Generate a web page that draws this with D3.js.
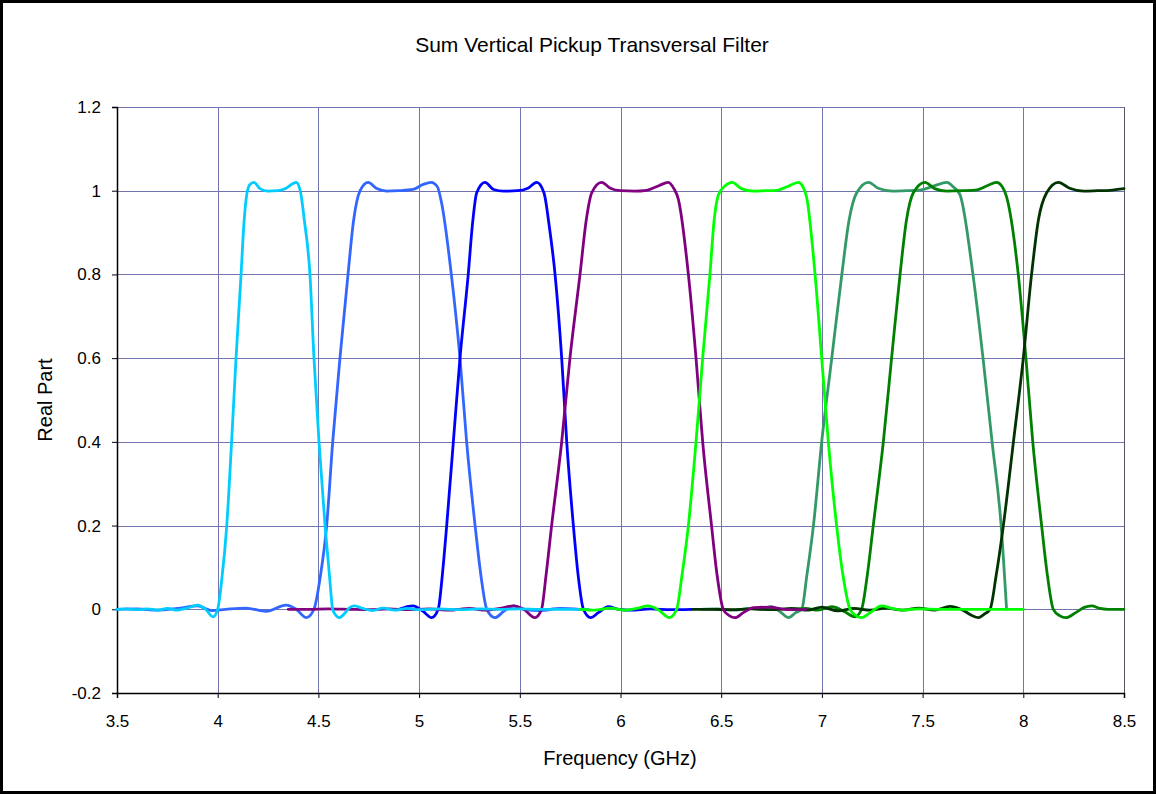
<!DOCTYPE html>
<html>
<head>
<meta charset="utf-8">
<script src="https://cdn.jsdelivr.net/npm/d3@7"></script>
<style>
  html, body { margin: 0; padding: 0; background: #fff; }
  svg { display: block; font-family: "Liberation Sans", Arial, sans-serif; }
</style>
</head>
<body>
<svg id="chart" width="1156" height="794"></svg>
<script>
// Axis ticks
const xTicks = [3.5, 4, 4.5, 5, 5.5, 6, 6.5, 7, 7.5, 8, 8.5];
const yTicks = [-0.2, 0, 0.2, 0.4, 0.6, 0.8, 1, 1.2];

// Real part of each transversal-filter channel: [frequency GHz, value]
const channel1 = [[3.50,0.000],[3.55,0.001],[3.60,-0.001],[3.65,0.001],[3.70,-0.002],[3.75,0.002],[3.80,-0.002],[3.85,0.003],[3.90,0.010],[3.94,0.000],[3.977,-0.018],[4.000,0.000],[4.020,0.070],[4.045,0.200],[4.069,0.400],[4.091,0.600],[4.116,0.800],[4.130,0.920],[4.144,0.990],[4.160,1.015],[4.180,1.020],[4.210,1.005],[4.250,0.999],[4.300,1.000],[4.340,1.006],[4.370,1.016],[4.390,1.020],[4.410,1.000],[4.430,0.930],[4.458,0.800],[4.478,0.600],[4.503,0.400],[4.533,0.200],[4.555,0.080],[4.571,0.000],[4.588,-0.015],[4.604,-0.020],[4.630,-0.010],[4.655,0.004],[4.680,0.008],[4.720,0.002],[4.770,-0.003],[4.820,0.003],[4.880,-0.002],[4.940,0.002],[5.000,-0.001],[5.100,0.001],[5.200,-0.001],[5.300,0.001],[5.400,0.000],[5.500,0.001],[5.600,0.000],[5.700,0.000],[5.840,0.000]];
const channel2 = [[3.50,0.000],[3.60,0.001],[3.70,-0.002],[3.80,0.002],[3.90,0.008],[3.97,-0.003],[4.04,0.000],[4.14,0.003],[4.24,-0.005],[4.34,0.010],[4.39,0.000],[4.44,-0.020],[4.478,0.000],[4.510,0.080],[4.541,0.200],[4.571,0.400],[4.607,0.600],[4.647,0.800],[4.675,0.930],[4.707,1.000],[4.747,1.020],[4.790,1.005],[4.840,0.999],[4.900,1.000],[4.970,1.003],[5.020,1.015],[5.060,1.020],[5.090,1.010],[5.112,0.970],[5.160,0.800],[5.203,0.600],[5.236,0.400],[5.278,0.200],[5.310,0.070],[5.336,0.000],[5.377,-0.020],[5.420,-0.005],[5.470,0.008],[5.520,0.000],[5.600,-0.003],[5.700,0.002],[5.800,0.000]];
const channel3 = [[4.90,0.000],[4.97,0.008],[5.020,-0.005],[5.062,-0.020],[5.095,0.000],[5.115,0.080],[5.137,0.200],[5.170,0.400],[5.203,0.600],[5.244,0.800],[5.265,0.920],[5.286,0.995],[5.327,1.020],[5.370,1.003],[5.420,0.999],[5.490,1.000],[5.540,1.006],[5.584,1.020],[5.620,0.995],[5.645,0.920],[5.675,0.800],[5.708,0.600],[5.733,0.400],[5.766,0.200],[5.790,0.080],[5.816,0.000],[5.852,-0.020],[5.890,-0.008],[5.940,0.006],[5.990,0.000],[6.050,-0.002],[6.150,0.001],[6.250,-0.001],[6.350,0.000]];
const channel4 = [[4.35,0.000],[4.45,0.000],[4.55,0.001],[4.65,0.000],[4.75,-0.001],[4.85,0.001],[4.95,-0.001],[5.05,0.001],[5.15,-0.002],[5.25,0.002],[5.33,-0.002],[5.40,0.002],[5.468,0.008],[5.520,0.000],[5.575,-0.020],[5.608,0.000],[5.630,0.080],[5.658,0.200],[5.708,0.400],[5.749,0.600],[5.799,0.800],[5.830,0.930],[5.857,0.995],[5.906,1.020],[5.950,1.006],[6.000,1.000],[6.070,0.999],[6.130,1.001],[6.190,1.012],[6.237,1.020],[6.265,1.005],[6.287,0.980],[6.337,0.800],[6.375,0.600],[6.408,0.400],[6.452,0.200],[6.480,0.080],[6.510,0.000],[6.540,-0.015],[6.568,-0.020],[6.610,-0.008],[6.660,0.004],[6.740,0.005],[6.830,-0.001],[6.920,0.000]];
const channel5 = [[5.80,0.000],[5.87,-0.002],[5.95,0.003],[6.02,-0.002],[6.08,0.002],[6.138,0.008],[6.190,-0.002],[6.242,-0.020],[6.279,0.000],[6.305,0.080],[6.337,0.200],[6.375,0.400],[6.408,0.600],[6.444,0.800],[6.465,0.930],[6.486,0.990],[6.520,1.012],[6.555,1.020],[6.600,1.005],[6.660,0.999],[6.720,1.000],[6.775,1.001],[6.830,1.010],[6.883,1.020],[6.905,1.010],[6.924,0.985],[6.966,0.800],[6.999,0.600],[7.032,0.400],[7.073,0.200],[7.105,0.080],[7.140,0.000],[7.170,-0.015],[7.197,-0.020],[7.240,-0.008],[7.296,0.008],[7.350,0.002],[7.400,-0.002],[7.480,0.001],[7.600,0.000],[7.700,0.000],[7.800,0.000],[8.000,0.000]];
const channel6 = [[6.40,0.000],[6.48,0.001],[6.56,-0.002],[6.64,0.002],[6.70,0.000],[6.75,0.006],[6.790,-0.005],[6.835,-0.020],[6.870,-0.008],[6.900,0.000],[6.925,0.080],[6.958,0.200],[6.999,0.400],[7.049,0.600],[7.099,0.800],[7.135,0.930],[7.173,0.995],[7.231,1.020],[7.280,1.006],[7.350,0.999],[7.420,1.000],[7.490,1.002],[7.560,1.012],[7.620,1.020],[7.655,1.008],[7.686,0.990],[7.750,0.800],[7.800,0.600],[7.845,0.400],[7.890,0.200],[7.917,0.000]];
const channel7 = [[6.85,0.000],[6.92,0.002],[6.98,-0.002],[7.050,0.006],[7.110,-0.005],[7.164,-0.018],[7.197,0.000],[7.225,0.080],[7.255,0.200],[7.305,0.400],[7.346,0.600],[7.388,0.800],[7.420,0.930],[7.454,0.995],[7.512,1.020],[7.560,1.005],[7.620,0.999],[7.700,1.000],[7.770,1.002],[7.820,1.012],[7.868,1.020],[7.895,1.010],[7.917,0.985],[7.975,0.800],[8.013,0.600],[8.047,0.400],[8.091,0.200],[8.120,0.080],[8.149,0.000],[8.180,-0.015],[8.212,-0.020],[8.260,-0.008],[8.300,0.004],[8.340,0.008],[8.380,0.002],[8.420,0.000],[8.500,0.000]];
const channel8 = [[6.35,0.000],[6.45,0.000],[6.55,-0.001],[6.65,0.001],[6.75,-0.001],[6.85,0.002],[6.93,-0.002],[7.000,0.005],[7.080,-0.004],[7.160,0.002],[7.240,-0.002],[7.320,0.003],[7.400,-0.002],[7.480,0.003],[7.560,-0.002],[7.636,0.007],[7.700,-0.002],[7.745,-0.015],[7.777,-0.020],[7.805,-0.012],[7.835,0.000],[7.865,0.080],[7.901,0.200],[7.951,0.400],[8.000,0.600],[8.041,0.800],[8.075,0.930],[8.116,0.995],[8.174,1.020],[8.230,1.006],[8.300,0.999],[8.370,1.000],[8.430,1.001],[8.500,1.005]];

// Drawing order (later series are painted on top)
const series = [
  { data: channel6, color: "#339966" },
  { data: channel7, color: "#008000" },
  { data: channel8, color: "#003300" },
  { data: channel2, color: "#3366ff" },
  { data: channel3, color: "#0000ff" },
  { data: channel4, color: "#800080" },
  { data: channel1, color: "#00ccff" },
  { data: channel5, color: "#00ff00" }
];

const W = 1156, H = 794;
const plot = { left: 117, right: 1124, top: 107, bottom: 693 };
const gridColor = "#7373b0";
const fontFamily = '"Liberation Sans", Arial, sans-serif';

const svg = d3.select("#chart");

// outer frame
svg.append("rect")
  .attr("x", 1.5).attr("y", 1.5)
  .attr("width", W - 3).attr("height", H - 3)
  .attr("fill", "#fff").attr("stroke", "#000").attr("stroke-width", 3);

const x = d3.scaleLinear().domain([3.5, 8.5]).range([plot.left, plot.right]);
const y = d3.scaleLinear().domain([-0.2, 1.2]).range([plot.bottom, plot.top]);

// grid
const grid = svg.append("g").attr("shape-rendering", "crispEdges");
grid.selectAll("line.v").data(xTicks).join("line")
  .attr("class", "v")
  .attr("x1", d => Math.round(x(d)) + 0.5).attr("x2", d => Math.round(x(d)) + 0.5)
  .attr("y1", plot.top).attr("y2", plot.bottom)
  .attr("stroke", (d, i) => i === xTicks.length - 1 ? "#555566" : gridColor)
  .attr("stroke-width", 1);
grid.selectAll("line.h").data(yTicks).join("line")
  .attr("class", "h")
  .attr("y1", d => Math.round(y(d)) + 0.5).attr("y2", d => Math.round(y(d)) + 0.5)
  .attr("x1", plot.left).attr("x2", plot.right)
  .attr("stroke", gridColor).attr("stroke-width", 1);

// axes
const fmt = d => String(d);
const xAxis = d3.axisBottom(x).tickValues(xTicks).tickFormat(fmt).tickSize(5).tickPadding(17);
const yAxis = d3.axisLeft(y).tickValues(yTicks).tickFormat(fmt).tickSize(5).tickPadding(11);

const gx = svg.append("g").attr("transform", `translate(0,${plot.bottom})`).call(xAxis);
const gy = svg.append("g").attr("transform", `translate(${plot.left},0)`).call(yAxis);
[gx, gy].forEach(g => {
  g.select(".domain").attr("stroke", "#000").attr("stroke-width", 1.5);
  g.selectAll(".tick line").attr("stroke", "#000");
  g.selectAll(".tick text")
    .attr("fill", "#000")
    .style("font-family", fontFamily)
    .style("font-size", "17px");
});

// curves
const line = d3.line()
  .x(d => x(d[0]))
  .y(d => y(d[1]))
  .curve(d3.curveMonotoneX);

svg.append("g").selectAll("path").data(series).join("path")
  .attr("d", s => line(s.data))
  .attr("fill", "none")
  .attr("stroke", s => s.color)
  .attr("stroke-width", 2.8)
  .attr("stroke-linejoin", "round")
  .attr("stroke-linecap", "round");

// titles
svg.append("text")
  .attr("x", 592).attr("y", 52)
  .attr("text-anchor", "middle")
  .style("font-size", "21px")
  .text("Sum Vertical Pickup Transversal Filter");

svg.append("text")
  .attr("x", 620).attr("y", 765)
  .attr("text-anchor", "middle")
  .style("font-size", "20px")
  .text("Frequency (GHz)");

svg.append("text")
  .attr("transform", "translate(52,400) rotate(-90)")
  .attr("text-anchor", "middle")
  .style("font-size", "20px")
  .text("Real Part");
</script>
</body>
</html>
